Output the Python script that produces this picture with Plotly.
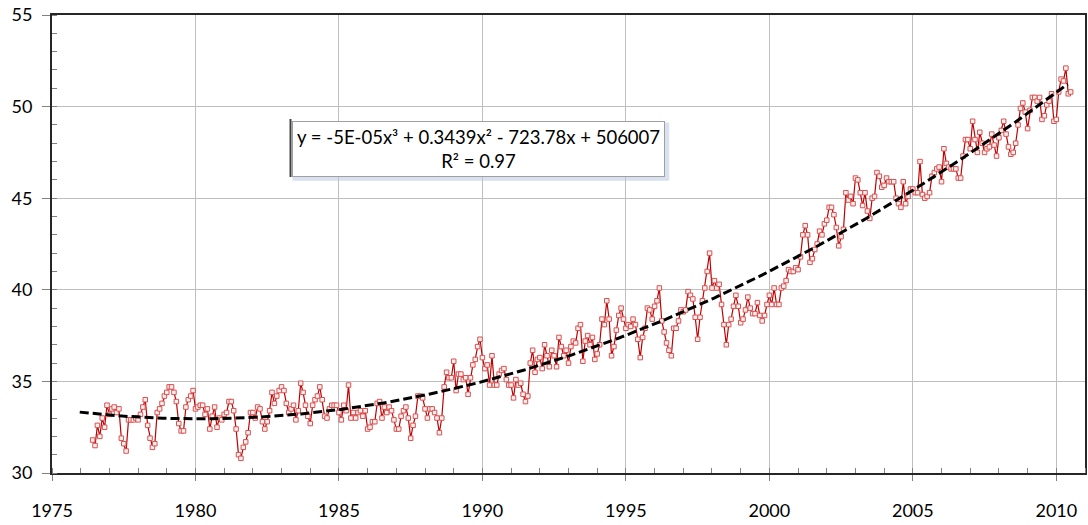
import numpy as np
import plotly.graph_objects as go

# Monthly series, first value = June 1976
START_YEAR = 1976
START_MONTH = 6

v1976_1979 = [31.8, 31.5, 32.6, 32.0, 33.0, 32.5, 33.7,
              33.2, 33.5, 33.6, 33.3, 33.5, 31.9, 31.6, 31.2, 32.9, 32.9, 32.9, 33.0,
              32.9, 33.2, 33.6, 34.0, 32.6, 31.9, 31.4, 31.6, 33.3, 33.5, 33.8, 34.2,
              34.4, 34.7, 34.7, 34.4, 33.9, 32.7, 32.3, 32.3, 33.6, 34.0, 34.2, 34.5]
v1980_1984 = [33.5, 33.6, 33.7, 33.7, 33.2, 33.5, 32.4, 33.1, 33.6, 32.5, 33.0, 32.9,
              33.2, 33.3, 33.9, 33.9, 33.4, 32.4, 31.0, 30.8, 31.4, 31.7, 32.2, 33.3,
              33.3, 33.0, 33.6, 33.5, 32.8, 32.4, 32.8, 33.4, 34.4, 33.8, 34.2, 34.5,
              34.7, 34.5, 33.8, 33.3, 33.5, 33.7, 32.9, 33.4, 34.9, 34.4, 33.7, 33.1,
              32.7, 33.7, 34.0, 34.2, 34.7, 34.0, 33.1, 33.0, 33.5, 33.7, 33.7, 33.7]
v1985_1989 = [33.3, 32.9, 33.7, 33.4, 34.8, 33.0, 33.3, 33.0, 33.3, 33.4, 33.1, 33.4,
              32.4, 32.5, 32.8, 32.8, 33.8, 33.9, 33.0, 33.6, 33.3, 33.6, 33.4, 32.9,
              32.4, 32.4, 33.1, 33.4, 33.6, 33.0, 31.9, 32.6, 33.1, 34.2, 34.2, 34.1,
              33.5, 33.0, 33.5, 33.5, 33.3, 33.0, 32.2, 33.0, 34.7, 35.5, 35.2, 35.2,
              36.1, 34.5, 35.4, 35.4, 35.1, 35.2, 34.3, 35.2, 35.9, 36.2, 36.9, 37.3]
v1990_1994 = [36.3, 35.7, 35.9, 34.8, 36.4, 34.8, 34.8, 35.4, 35.6, 35.7, 35.1, 34.8,
              34.8, 34.1, 35.1, 34.8, 34.9, 34.3, 33.9, 34.2, 36.0, 36.7, 35.5, 36.2,
              36.3, 35.7, 37.0, 36.4, 35.8, 36.7, 36.4, 35.8, 37.4, 36.9, 36.4, 36.7,
              36.0, 36.9, 37.2, 37.1, 37.9, 38.1, 36.1, 37.2, 37.5, 37.0, 37.4, 36.2,
              36.5, 37.0, 38.4, 38.1, 39.4, 38.4, 36.4, 36.9, 37.8, 38.6, 39.0, 38.4]
v1995_1999 = [37.9, 38.1, 38.0, 38.4, 38.1, 37.3, 36.3, 37.4, 37.9, 39.0, 38.9, 38.4,
              39.1, 39.4, 40.1, 38.3, 37.7, 37.1, 36.7, 36.4, 37.9, 37.9, 38.3, 38.9,
              38.8, 38.9, 39.9, 39.7, 39.5, 38.5, 37.3, 38.5, 39.4, 40.1, 41.0, 42.0,
              40.1, 40.5, 40.1, 40.3, 39.2, 38.1, 37.0, 38.1, 38.4, 39.1, 39.7, 39.1,
              38.2, 38.4, 38.9, 39.6, 39.0, 38.7, 38.7, 39.3, 38.6, 38.3, 38.6, 39.2]
v2000_2004 = [39.7, 39.2, 40.1, 39.2, 39.2, 40.1, 40.2, 40.5, 41.1, 41.0, 41.0, 41.2,
              41.1, 41.8, 43.0, 43.5, 43.0, 41.5, 41.7, 42.2, 42.5, 43.2, 43.0, 43.6,
              43.8, 44.5, 44.5, 44.1, 43.4, 42.4, 42.9, 43.3, 45.3, 44.9, 45.1, 44.7,
              46.1, 46.0, 45.3, 44.6, 45.3, 44.3, 43.9, 45.0, 45.1, 46.4, 46.2, 45.6,
              45.7, 46.1, 45.9, 45.9, 45.9, 45.0, 44.7, 44.5, 45.9, 44.7, 45.1, 45.5]
v2005_2010 = [45.5, 45.3, 45.3, 47.0, 45.2, 45.0, 45.1, 45.3, 46.2, 46.4, 46.6, 46.7,
              45.9, 47.7, 46.9, 46.7, 46.6, 46.6, 46.6, 46.1, 46.1, 47.3, 48.2, 48.2,
              47.7, 49.2, 48.2, 47.5, 48.6, 48.0, 47.5, 47.7, 47.8, 48.5, 47.9, 47.3,
              48.3, 48.7, 49.2, 48.5, 47.8, 47.4, 47.5, 48.0, 49.0, 49.9, 50.2, 49.7,
              48.8, 49.8, 50.5, 50.5, 50.3, 50.5, 49.3, 49.5, 50.1, 50.3, 50.7, 49.2,
              49.3, 50.8, 51.5, 51.4, 52.1, 50.7, 50.8]

x_ticks = [1975, 1980, 1985, 1990, 1995, 2000, 2005, 2010]
y_ticks = [30, 35, 40, 45, 50, 55]
equation_text = "y = -5E-05x³ + 0.3439x² - 723.78x + 506007<br>R² = 0.97"

series = v1976_1979 + v1980_1984 + v1985_1989 + v1990_1994 + v1995_1999 + v2000_2004 + v2005_2010
x = [START_YEAR + (START_MONTH - 1 + i) / 12 for i in range(len(series))]

# cubic trendline fitted to the data
xa = np.array(x)
coef = np.polyfit(xa - 1993, np.array(series), 3)
tx = np.linspace(xa[0] - 0.45, xa[-1] - 0.1, 300)
ty = np.polyval(coef, tx - 1993)

FONT = "Lato"

fig = go.Figure()
fig.add_trace(go.Scatter(
    x=x, y=series, mode="lines+markers",
    line=dict(color="#C00000", width=1.2),
    marker=dict(symbol="square", size=4.5, color="#FFF0F0",
                line=dict(color="#D85050", width=1)),
    showlegend=False, hoverinfo="skip"))
fig.add_trace(go.Scatter(
    x=tx, y=ty, mode="lines",
    line=dict(color="black", width=3, dash="9px,4px"),
    showlegend=False, hoverinfo="skip"))

# soft shadow of the equation box
fig.add_shape(type="rect", xref="paper", yref="paper",
              x0=0.2328, x1=0.5975, y0=0.6380, y1=0.7653,
              fillcolor="rgba(180,196,226,0.5)", line=dict(width=0), layer="above")

fig.add_annotation(xref="paper", yref="paper", x=0.4126, y=0.7085,
                   xanchor="center", yanchor="middle",
                   text=equation_text, showarrow=False, align="center",
                   font=dict(family=FONT, size=18.5, color="black"),
                   bgcolor="white", bordercolor="#A0A0A0", borderwidth=1, borderpad=4)

# darker left edge of the equation box
fig.add_shape(type="line", xref="paper", yref="paper",
              x0=0.2309, x1=0.2309, y0=0.6463, y1=0.7729,
              line=dict(color="#404040", width=2))

axis_common = dict(showline=True, linecolor="#262626", linewidth=2, mirror=True,
                   showgrid=True, gridcolor="#BFBFBF", gridwidth=1, zeroline=False,
                   automargin=False,
                   tickfont=dict(family=FONT, size=18, color="black"),
                   ticks="outside", tickcolor="#808080")

fig.update_xaxes(range=[1975, 2011], tickvals=x_ticks, ticktext=[str(v) for v in x_ticks],
                 ticklen=6, ticklabelstandoff=14,
                 minor=dict(dtick=1, tick0=1975, ticks="inside", ticklen=5,
                            tickcolor="#808080", showgrid=False),
                 **axis_common)
fig.update_yaxes(range=[30, 55], tickvals=y_ticks, ticktext=[str(v) for v in y_ticks],
                 ticklen=8, ticklabelstandoff=6,
                 minor=dict(dtick=1, tick0=30, ticks="inside", ticklen=5,
                            tickcolor="#808080", showgrid=False),
                 **axis_common)

fig.update_layout(width=1088, height=525,
                  margin=dict(l=52, r=3, t=15, b=52),
                  paper_bgcolor="white", plot_bgcolor="white",
                  font=dict(family=FONT))

fig.write_html("out.html", config={"displayModeBar": False},
               post_script="document.body.style.margin='0';document.body.style.overflow='hidden';")
